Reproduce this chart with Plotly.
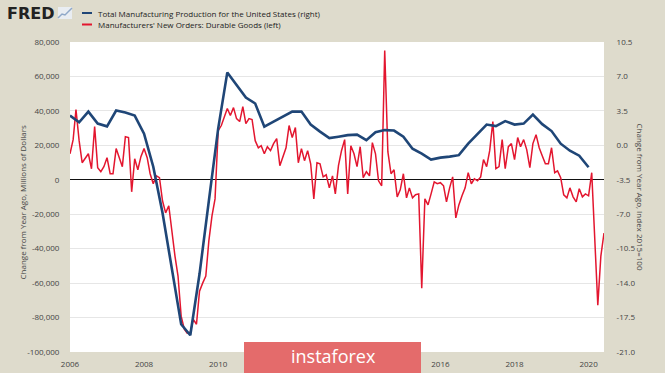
import plotly.graph_objects as go
import pandas as pd

# ---------------- data ----------------
red_name = "Manufacturers' New Orders: Durable Goods (left)"
blue_name = "Total Manufacturing Production for the United States (right)"

red_start = "2006-01-01"   # monthly
red_values = [
    15100, 23300, 40800, 22700, 9900, 12200, 15100, 6400, 30900, 7000, 4700, 7600,        # 2006
    12800, 3500, 3500, 18100, 12800, 7600, 25000, 24500, -7000, 12200, 5800, 13400,       # 2007
    18100, 12800, 3500, -2300, 2300, 1200, -12200, -19200, -15100, -30900, -44300, -55900,  # 2008
    -79200, -86800, -89100, -88500, -81000, -83900, -64700, -60000, -55900, -35500, -21000, -11100,  # 2009
    28500, 31500, 36700, 41400, 37300, 41900, 35500, 33800, 42500, 32600, 35500, 35000,   # 2010
    22700, 18600, 19800, 15100, 19200, 16900, 21000, 23900, 8200, 14000, 18600, 31500,    # 2011
    24500, 30300, 9900, 18100, 11100, 16900, 9300, -11100, 9900, 9300, 1700, 2900,        # 2012
    -4700, 2300, -8200, 8200, 16900, 23300, -8200, 19800, 15100, 7600, 19200, 1200,       # 2013
    4700, 2300, 21600, 15100, -600, -3500, 75100, 16300, 3500, 5800, -9900, -5800,        # 2014
    3500, -10500, -4700, -10500, -8700, -8200, -62900, -11100, -14600, -8200, -1200, -2300,  # 2015
    -1700, -3500, -12800, -4700, 1700, -22100, -14600, -9300, -4700, 4100, -2300, 600,    # 2016
    -600, 1700, 11700, 7600, 16900, 33800, 6400, 7600, 23300, 6400, 19200, 21000,         # 2017
    11700, 24500, 19200, 23300, 17500, 7000, 21000, 26200, 18600, 14000, 9300, 9300,      # 2018
    18600, 4100, 5200, 1200, -8700, -10500, -4700, -9900, -12800, -5200, -9900, -8200,    # 2019
    -9300, 4100, -34400, -72800, -44300, -30900,                                          # 2020
]

blue_start = "2006-01-01"  # quarterly
blue_values = [
    3.02, 2.34, 3.43, 2.21,      # 2006
    1.93, 3.53, 3.33, 3.02,      # 2007
    1.19, -2.17, -6.86, -12.57,  # 2008
    -18.18, -19.30, -13.08, -5.64,  # 2009
    1.70, 7.41, 6.09, 4.86,      # 2010
    4.25, 1.90, 2.41, 2.92,      # 2011
    3.43, 3.43, 2.11, 1.39,      # 2012
    0.73, 0.88, 1.04, 1.09,      # 2013
    0.53, 1.34, 1.55, 1.50,      # 2014
    0.88, -0.34, -0.84, -1.45,   # 2015
    -1.25, -1.15, -1.00, 0.17,   # 2016
    1.19, 2.11, 1.95, 2.46,      # 2017
    2.11, 2.21, 3.13, 2.15,      # 2018
    1.45, 0.17, -0.55, -1.05,    # 2019
    -2.23,                       # 2020
]

# 2012 and 2014 labels are hidden behind the watermark in the reference
x_tick_years = [2006, 2008, 2010, 2016, 2018, 2020]
x_tick_labels = [str(y) for y in x_tick_years]
left_ticks = [80000, 60000, 40000, 20000, 0, -20000, -40000, -60000, -80000, -100000]
left_tick_labels = ["80,000", "60,000", "40,000", "20,000", "0", "-20,000", "-40,000",
                    "-60,000", "-80,000", "-100,000"]
right_ticks = [10.5, 7.0, 3.5, 0.0, -3.5, -7.0, -10.5, -14.0, -17.5, -21.0]
right_tick_labels = ["10.5", "7.0", "3.5", "0.0", "-3.5", "-7.0", "-10.5", "-14.0", "-17.5", "-21.0"]

left_title = "Change from Year Ago, Millions of Dollars"
right_title = "Change from Year Ago, Index 2015=100"

# ---------------- styling ----------------
W, H = 665, 373
L, R, T, B = 70, 604, 42, 352
BG = "#dedbcc"
RED = "#e3162f"
BLUE = "#1f4677"
TXT = "#444444"
FONT = "Open Sans"

def px(xp):
    return (xp - L) / (R - L)

def py(yp):
    return (B - yp) / (B - T)

red_dates = pd.date_range(red_start, periods=len(red_values), freq="MS")
blue_dates = pd.date_range(blue_start, periods=len(blue_values), freq="QS")

fig = go.Figure()
fig.add_trace(go.Scatter(x=red_dates, y=red_values, mode="lines", name=red_name,
                         line=dict(color=RED, width=1.5), yaxis="y"))
fig.add_trace(go.Scatter(x=blue_dates, y=blue_values, mode="lines", name=blue_name,
                         line=dict(color=BLUE, width=2.6), yaxis="y2"))

fig.update_layout(
    width=W, height=H,
    margin=dict(l=L, r=W - R, t=T, b=H - B, pad=0, autoexpand=False),
    paper_bgcolor=BG, plot_bgcolor="white",
    showlegend=False,
    font=dict(family=FONT, size=8, color=TXT),
    xaxis=dict(
        type="date", range=["2006-01-01", "2020-06-01"], automargin=False,
        tickvals=[f"{y}-01-01" for y in x_tick_years], ticktext=x_tick_labels,
        showgrid=False, zeroline=False, showline=False,
        ticks="outside", ticklen=4, tickcolor="rgba(0,0,0,0)",
        tickfont=dict(size=8, color=TXT, family=FONT),
    ),
    yaxis=dict(
        range=[-100000, 80000], tickvals=left_ticks, ticktext=left_tick_labels,
        automargin=False,
        showgrid=True, gridcolor="#e6e6e6", gridwidth=1,
        zeroline=True, zerolinecolor="#111111", zerolinewidth=1.4,
        showline=False, ticks="outside", ticklen=8, tickcolor="rgba(0,0,0,0)",
        tickfont=dict(size=8, color=TXT, family=FONT),
    ),
    yaxis2=dict(
        range=[-21, 10.5], tickvals=right_ticks, ticktext=right_tick_labels,
        automargin=False,
        overlaying="y", side="right", showgrid=False, zeroline=False, showline=False,
        ticks="outside", ticklen=10, tickcolor="rgba(0,0,0,0)",
        tickfont=dict(size=8, color=TXT, family=FONT),
    ),
)

annotations = [
    dict(text=left_title, x=px(15), y=py(203), xref="paper", yref="paper", textangle=-90,
         showarrow=False, font=dict(size=8, color=TXT, family=FONT)),
    dict(text=right_title, x=px(648), y=py(197), xref="paper", yref="paper", textangle=90,
         showarrow=False, font=dict(size=8, color=TXT, family=FONT)),
    dict(text="<b>FRED</b>", x=px(5), y=py(14), xref="paper", yref="paper", xanchor="left",
         yanchor="middle", showarrow=False, font=dict(size=16, color="#222222", family="DejaVu Sans")),
    dict(text=blue_name, x=px(96), y=py(13), xref="paper", yref="paper", xanchor="left",
         yanchor="middle", showarrow=False, font=dict(size=8, color="#222222", family=FONT)),
    dict(text=red_name, x=px(96), y=py(24.5), xref="paper", yref="paper", xanchor="left",
         yanchor="middle", showarrow=False, font=dict(size=8, color="#222222", family=FONT)),
    dict(text="instaforex", x=px(333), y=py(356), xref="paper", yref="paper", xanchor="center",
         yanchor="middle", showarrow=False, font=dict(size=18, color="white", family=FONT)),
]

shapes = [
    dict(type="line", xref="paper", yref="paper", x0=px(82), x1=px(92), y0=py(13), y1=py(13),
         line=dict(color=BLUE, width=2)),
    dict(type="line", xref="paper", yref="paper", x0=px(82), x1=px(92), y0=py(24.5), y1=py(24.5),
         line=dict(color=RED, width=2)),
    # small FRED graph icon
    dict(type="rect", xref="paper", yref="paper", x0=px(58), x1=px(72), y0=py(19), y1=py(7),
         fillcolor="#e9edf2", line=dict(width=0)),
    dict(type="path", xref="paper", yref="paper",
         path=f"M {px(58)},{py(18)} L {px(62)},{py(14)} L {px(65)},{py(15)} L {px(72)},{py(8)}",
         line=dict(color="#8fa8c8", width=1.5)),
    # watermark box
    dict(type="rect", xref="paper", yref="paper", x0=px(244), x1=px(421), y0=py(373), y1=py(342),
         fillcolor="#e46b6b", line=dict(width=0), layer="above"),
]

fig.update_layout(annotations=annotations, shapes=shapes)
fig.write_html(
    "out.html",
    config={"displayModeBar": False},
    post_script="document.body.style.margin='0';document.body.style.background='" + BG + "';",
)
